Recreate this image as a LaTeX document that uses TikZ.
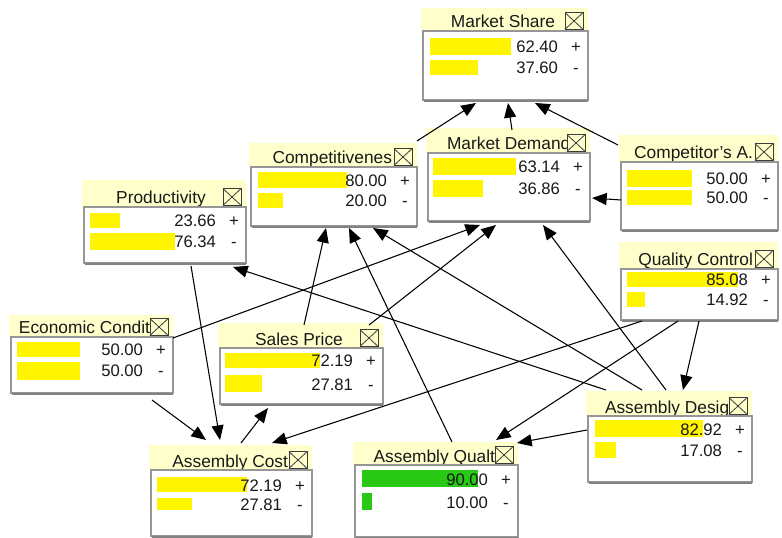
\documentclass[tikz,border=0pt]{standalone}
\usepackage{fontspec}
\setmainfont{Liberation Sans}
\usetikzlibrary{arrows.meta,calc,fit}
\definecolor{tabY}{RGB}{255,255,204}
\definecolor{barY}{RGB}{255,245,0}
\definecolor{barG}{RGB}{40,200,20}
\definecolor{frameG}{RGB}{150,150,150}
\definecolor{shadowG}{RGB}{130,130,130}
\definecolor{xdark}{RGB}{60,60,60}
\tikzset{
  titlesty/.style={inner sep=0pt,outer sep=0pt,font=\fontsize{13}{15}\selectfont,text=black!90},
  valsty/.style={inner sep=0pt,outer sep=0pt,font=\fontsize{12.5}{14}\selectfont,text=black!90},
  xbox/.style={draw=xdark,fill=tabY,line width=0.6pt,minimum width=13.5pt,minimum height=12.5pt,inner sep=0pt,outer sep=0pt},
  boxsty/.style={draw=frameG,fill=white,line width=1.1pt,inner sep=0pt,outer sep=0pt},
  arr/.style={-{Triangle[length=11pt,width=9pt]},line width=0.8pt,black}
}
\newcommand\bnbox[9]{%
  \fill[tabY] (#2-2,#4) rectangle (#3,#5);
  \node[titlesty,anchor=#7] (#1-t) at (#8,#5-3) {#9};
  \node[xbox] (#1-x) at (#3-14,#5-10) {};
  \draw[xdark,line width=0.6pt] (#1-x.north west) -- (#1-x.south east) (#1-x.north east) -- (#1-x.south west);
  \node[boxsty,fit={(#2,#5) (#3,#6)}] (#1) {};
  \draw[shadowG,line width=2pt] ($(#1.south west)+(1,1)$) -- ($(#1.south east)+(0,1)$);
}
\newcommand\bnbar[5][barY]{\fill[#1] (#2,#4) rectangle (#3,#5);}
\newcommand\bnval[5]{%
  \node[valsty,anchor=base east] (#1-v) at (#2-30,#3+6) {#4};
  \node[valsty,anchor=base] (#1-s) at (#2-12,#3+6) {#5};}
\begin{document}
\begin{tikzpicture}[x=0.75pt,y=-0.75pt]
\useasboundingbox (0,0) rectangle (782,538);
\fill[white] (0,0) rectangle (782,538);

% Market Share
\bnbox{ms}{423}{588}{8}{31}{100}{base}{503}{Market Share}
\bnbar{430}{511}{38}{55}\bnbar{430}{478}{60}{75}
\bnval{ms1}{588}{47}{62.40}{+}\bnval{ms2}{588}{68}{37.60}{-}
% Competitiveness
\bnbox{cp}{251}{417}{143}{167}{226}{base east}{392}{Competitivenes}
\bnbar{258}{347}{172}{188}\bnbar{258}{283}{193}{208}
\bnval{cp1}{417}{181}{80.00}{+}\bnval{cp2}{417}{201}{20.00}{-}
% Market Demand
\bnbox{md}{428}{590}{128}{153}{221}{base west}{447}{Market Demand}
\bnbar{433}{516}{158}{175}\bnbar{433}{483}{180}{197}
\bnval{md1}{590}{167}{63.14}{+}\bnval{md2}{590}{189}{36.86}{-}
% Competitor's A.
\bnbox{ca}{621}{778}{135}{162}{230}{base east}{753}{Competitor's A.}
\bnbar{627}{692}{170}{187}\bnbar{627}{692}{190}{205}
\bnval{ca1}{778}{179}{50.00}{+}\bnval{ca2}{778}{198}{50.00}{-}
% Productivity
\bnbox{pr}{84}{246}{180}{207}{263}{base}{161}{Productivity}
\bnbar{90}{120}{213}{228}\bnbar{90}{175}{233}{250}
\bnval{pr1}{246}{221}{23.66}{+}\bnval{pr2}{246}{242}{76.34}{-}
% Quality Control
\bnbox{qc}{621}{778}{242}{269}{320}{base east}{753}{Quality Control}
\bnbar{627}{738}{272}{287}\bnbar{627}{645}{292}{307}
\bnval{qc1}{778}{280}{85.08}{+}\bnval{qc2}{778}{300}{14.92}{-}
% Economic Condit
\bnbox{ec}{11}{173}{315}{337}{393}{base east}{150}{Economic Condit}
\bnbar{17}{80}{342}{357}\bnbar{17}{80}{362}{380}
\bnval{ec1}{173}{350}{50.00}{+}\bnval{ec2}{173}{371}{50.00}{-}
% Sales Price
\bnbox{sp}{220}{383}{323}{348}{404}{base}{299}{Sales Price}
\bnbar{225}{320}{353}{368}\bnbar{225}{262}{375}{392}
\bnval{sp1}{383}{361}{72.19}{+}\bnval{sp2}{383}{384}{27.81}{-}
% Assembly Design
\bnbox{ad}{588}{752}{391}{416}{482}{base west}{605}{Assembly Design}
\bnbar{595}{703}{420}{437}\bnbar{595}{616}{442}{458}
\bnval{ad1}{752}{429}{82.92}{+}\bnval{ad2}{752}{450}{17.08}{-}
% Assembly Cost
\bnbox{ac}{151}{312}{445}{470}{536}{base east}{288}{Assembly Cost}
\bnbar{157}{247}{477}{492}\bnbar{157}{192}{498}{510}
\bnval{ac1}{312}{485}{72.19}{+}\bnval{ac2}{312}{504}{27.81}{-}
% Assembly Qualt
\bnbox{aq}{355}{518}{442}{465}{537}{base east}{495}{Assembly Qualt}
\bnbar[barG]{362}{478}{470}{487}\bnbar[barG]{362}{372}{493}{510}
\bnval{aq1}{518}{479}{90.00}{+}\bnval{aq2}{518}{502}{10.00}{-}

% connectors
\draw[arr] ($(cp.north east)+(0,-26)$) -- ($(ms.south west)+(53,3)$);
\draw[arr] ($(md.north west)+(84,-23)$) -- ($(ms.south west)+(85,3)$);
\draw[arr] ($(ca.north west)+(-3,-17)$) -- ($(ms.south west)+(112,3)$);
\draw[arr] ($(ca.north west)+(0,38)$) -- ($(md.north east)+(2,45)$);
\draw[arr] ($(ad.north west)+(18,-26)$) -- ($(pr.south west)+(149,4)$);
\draw[arr] ($(pr.south west)+(107,3)$) -- ($(ac.north west)+(69,-30)$);
\draw[arr] ($(ec.south west)+(141,7)$) -- ($(ac.north west)+(55,-30)$);
\draw[arr] ($(ac.north west)+(90,-27)$) -- ($(sp.south west)+(48,4)$);
\draw[arr] ($(sp.north west)+(84,-23)$) -- ($(cp.south west)+(75,2)$);
\draw[arr] ($(ec.north east)+(0,1)$) -- ($(md.south west)+(52,4)$);
\draw[arr] ($(sp.north west)+(149,-23)$) -- ($(md.south west)+(68,4)$);
\draw[arr] ($(aq.north west)+(97,-23)$) -- ($(cp.south west)+(98,2)$);
\draw[arr] ($(ad.north west)+(54,-26)$) -- ($(cp.south west)+(122,2)$);
\draw[arr] ($(ad.north west)+(78,-26)$) -- ($(md.south west)+(115,4)$);
\draw[arr] ($(qc.south west)+(78,1)$) -- ($(ad.north west)+(95,-26)$);
\draw[arr] ($(qc.south west)+(21,1)$) -- ($(ac.north west)+(121,-27)$);
\draw[arr] ($(qc.south west)+(57,1)$) -- ($(aq.north west)+(141,-25)$);
\draw[arr] ($(ad.north west)+(-1,14)$) -- ($(aq.north east)+(-1,-22)$);
\end{tikzpicture}
\end{document}
